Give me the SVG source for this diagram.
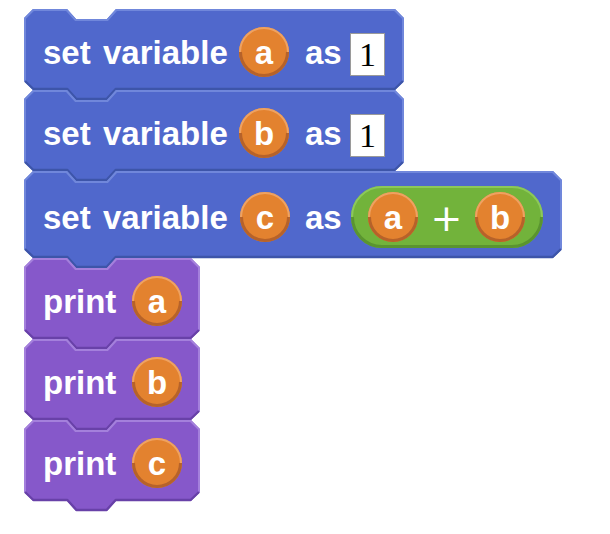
<svg xmlns="http://www.w3.org/2000/svg" xmlns:xlink="http://www.w3.org/1999/xlink" width="610" height="534" viewBox="0 0 610 534">
  <style>
    .lbl { font-family: "Liberation Sans", Arial, sans-serif; font-weight: bold; font-size: 33px; fill: #ffffff; }
    .var { text-anchor: middle; }
    .num { font-family: "Liberation Serif", "Times New Roman", serif; font-size: 34px; fill: #000000; text-anchor: middle; }
    .op { font-family: "DejaVu Sans", sans-serif; font-size: 38px; fill: #ffffff; text-anchor: middle; }
    .blue { fill: #5068cc; }
    .blue-hi { fill: none; stroke: #7087db; stroke-width: 2; stroke-linejoin: round; }
    .blue-lo { fill: none; stroke: #3d55a9; stroke-width: 2.4; stroke-linejoin: round; }
    .purple { fill: #8658ca; }
    .purple-hi { fill: none; stroke: #a480dc; stroke-width: 2; stroke-linejoin: round; }
    .purple-lo { fill: none; stroke: #6841a8; stroke-width: 2.4; stroke-linejoin: round; }
    .slot { fill: #ffffff; stroke: #9a9a9a; stroke-width: 1; }
  </style>
  <defs>
    <!-- stack block outline: 9px chamfers, notch on top, tab below -->
    <g id="set-shape">
      <path class="blue" d="M0,9 L9,0 L43,0 L52,10 L83,10 L92,0 L371,0 L380,9 L380,72 L371,81 L92,81 L83,91 L52,91 L43,81 L9,81 L0,72 Z"/>
      <polyline class="blue-hi" points="1,72 1,9.4 9.4,1 42.6,1 51.6,11 83.4,11 92.4,1 370.6,1 379,9.4 379,72"/>
      <polyline class="blue-lo" points="1,72 9.4,80 43.4,80 52.4,90 82.6,90 91.6,80 370.6,80 379,72"/>
    </g>
    <g id="print-shape">
      <path class="purple" d="M0,9 L9,0 L43,0 L52,10 L83,10 L92,0 L167,0 L176,9 L176,72 L167,81 L92,81 L83,91 L52,91 L43,81 L9,81 L0,72 Z"/>
      <polyline class="purple-hi" points="1,72 1,9.4 9.4,1 42.6,1 51.6,11 83.4,11 92.4,1 166.6,1 175,9.4 175,72"/>
      <polyline class="purple-lo" points="1,72 9.4,80 43.4,80 52.4,90 82.6,90 91.6,80 166.6,80 175,72"/>
    </g>
    <!-- round variable reporter -->
    <g id="bubble">
      <circle r="25" fill="#e3822f"/>
      <path d="M-24,0 A24,24 0 0 1 24,0" fill="none" stroke="#eea262" stroke-width="2"/>
      <path d="M-23.5,0 A23.5,23.5 0 0 0 23.5,0" fill="none" stroke="#b6622a" stroke-width="3"/>
    </g>
  </defs>

  <g id="set-a" transform="translate(24,9)">
    <use xlink:href="#set-shape"/>
    <text class="lbl" x="19" y="54.5">set</text>
    <text class="lbl" x="79" y="54.5">variable</text>
    <use xlink:href="#bubble" x="240" y="43"/>
    <text class="lbl var" x="240" y="54.5">a</text>
    <text class="lbl" x="281" y="54.5">as</text>
    <rect class="slot" x="326.5" y="24.5" width="34" height="42"/>
    <text class="num" x="343.5" y="57">1</text>
  </g>

  <g id="set-b" transform="translate(24,90)">
    <use xlink:href="#set-shape"/>
    <text class="lbl" x="19" y="54.5">set</text>
    <text class="lbl" x="79" y="54.5">variable</text>
    <use xlink:href="#bubble" x="240" y="43"/>
    <text class="lbl var" x="240" y="54.5">b</text>
    <text class="lbl" x="281" y="54.5">as</text>
    <rect class="slot" x="326.5" y="24.5" width="34" height="42"/>
    <text class="num" x="343.5" y="57">1</text>
  </g>

  <g id="set-c" transform="translate(24,171)">
    <path class="blue" d="M0,9 L9,0 L43,0 L52,10 L83,10 L92,0 L529,0 L538,9 L538,78 L529,87 L92,87 L83,97 L52,97 L43,87 L9,87 L0,78 Z"/>
    <polyline class="blue-hi" points="1,78 1,9.4 9.4,1 42.6,1 51.6,11 83.4,11 92.4,1 528.6,1 537,9.4 537,78"/>
    <polyline class="blue-lo" points="1,78 9.4,86 43.4,86 52.4,96 82.6,96 91.6,86 528.6,86 537,78"/>
    <text class="lbl" x="19" y="57.5">set</text>
    <text class="lbl" x="79" y="57.5">variable</text>
    <use xlink:href="#bubble" x="241" y="46"/>
    <text class="lbl var" x="241" y="57.5">c</text>
    <text class="lbl" x="281" y="57.5">as</text>
    <!-- sum reporter -->
    <g id="sum">
      <rect x="327" y="15" width="192" height="62" rx="31" ry="31" fill="#72b33b"/>
      <path d="M328,46 A30,30 0 0 1 358,16 L488,16 A30,30 0 0 1 518,46" fill="none" stroke="#8cc85a" stroke-width="2"/>
      <path d="M328.5,46 A29.5,29.5 0 0 0 358,75.5 L488,75.5 A29.5,29.5 0 0 0 517.5,46" fill="none" stroke="#5a9430" stroke-width="3"/>
      <use xlink:href="#bubble" x="369" y="46"/>
      <text class="lbl var" x="369" y="57.5">a</text>
      <text class="op" x="422.5" y="59.5">+</text>
      <use xlink:href="#bubble" x="476" y="46"/>
      <text class="lbl var" x="476" y="57.5">b</text>
    </g>
  </g>

  <g id="print-a" transform="translate(24,258)">
    <use xlink:href="#print-shape"/>
    <text class="lbl" x="19" y="54.5">print</text>
    <use xlink:href="#bubble" x="133" y="43"/>
    <text class="lbl var" x="133" y="54.5">a</text>
  </g>

  <g id="print-b" transform="translate(24,339)">
    <use xlink:href="#print-shape"/>
    <text class="lbl" x="19" y="54.5">print</text>
    <use xlink:href="#bubble" x="133" y="43"/>
    <text class="lbl var" x="133" y="54.5">b</text>
  </g>

  <g id="print-c" transform="translate(24,420)">
    <use xlink:href="#print-shape"/>
    <text class="lbl" x="19" y="54.5">print</text>
    <use xlink:href="#bubble" x="133" y="43"/>
    <text class="lbl var" x="133" y="54.5">c</text>
  </g>
</svg>
